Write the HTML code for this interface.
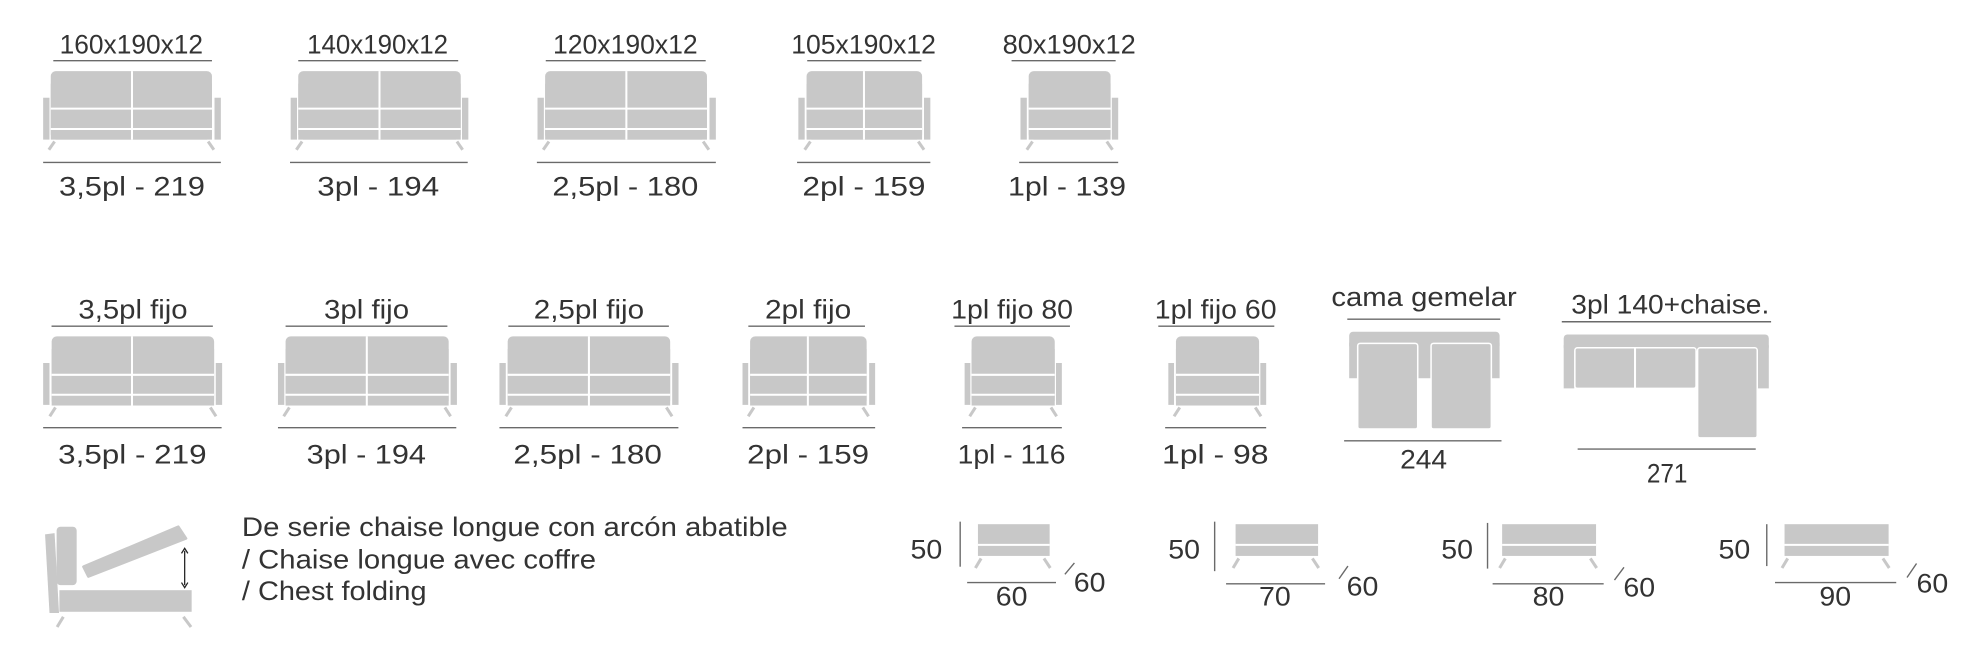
<!DOCTYPE html>
<html><head><meta charset="utf-8"><style>
html,body{margin:0;padding:0;background:#fff;}
svg{display:block;}
text{font-family:"Liberation Sans",sans-serif;fill:#333;font-size:21px;}
</style></head><body>
<svg width="1980" height="660" viewBox="0 0 1560 520" xmlns="http://www.w3.org/2000/svg" xml:space="preserve">
<defs>
<style>
.f{fill:#c8c8c8}
.w{stroke:#fff;stroke-width:1.6}
.l{stroke:#6a6a6a;stroke-width:1.1}
.g{stroke:#c8c8c8;stroke-width:2.4}
</style>
</defs>

<!-- ===== ROW 1 ===== -->
<!-- sofa 1 -->
<g>
<rect class="f" x="34" y="77" width="5" height="33"/><rect class="f" x="169" y="77" width="5" height="33"/>
<rect class="f" x="40" y="56" width="127" height="54" rx="4"/><rect class="f" x="40" y="66" width="127" height="44"/>
<line class="w" x1="40" y1="85.6" x2="167" y2="85.6"/><line class="w" x1="40" y1="101.6" x2="167" y2="101.6"/><line class="w" x1="104" y1="56" x2="104" y2="110"/>
<line class="g" x1="43" y1="111.5" x2="38.5" y2="118"/><line class="g" x1="164" y1="111.5" x2="168.5" y2="118"/>
</g>
<g>
<rect class="f" x="229" y="77" width="5" height="33"/><rect class="f" x="364" y="77" width="5" height="33"/>
<rect class="f" x="235" y="56" width="128" height="54" rx="4"/><rect class="f" x="235" y="66" width="128" height="44"/>
<line class="w" x1="235" y1="85.6" x2="363" y2="85.6"/><line class="w" x1="235" y1="101.6" x2="363" y2="101.6"/><line class="w" x1="299" y1="56" x2="299" y2="110"/>
<line class="g" x1="238" y1="111.5" x2="233.5" y2="118"/><line class="g" x1="360" y1="111.5" x2="364.5" y2="118"/>
</g>
<g>
<rect class="f" x="423.5" y="77" width="5" height="33"/><rect class="f" x="559" y="77" width="5" height="33"/>
<rect class="f" x="429.5" y="56" width="127.5" height="54" rx="4"/><rect class="f" x="429.5" y="66" width="127.5" height="44"/>
<line class="w" x1="429.5" y1="85.6" x2="557" y2="85.6"/><line class="w" x1="429.5" y1="101.6" x2="557" y2="101.6"/><line class="w" x1="493.5" y1="56" x2="493.5" y2="110"/>
<line class="g" x1="432.5" y1="111.5" x2="428" y2="118"/><line class="g" x1="554" y1="111.5" x2="558.5" y2="118"/>
</g>
<g>
<rect class="f" x="629" y="77" width="5" height="33"/><rect class="f" x="728" y="77" width="5" height="33"/>
<rect class="f" x="635.5" y="56" width="91" height="54" rx="4"/><rect class="f" x="635.5" y="66" width="91" height="44"/>
<line class="w" x1="635.5" y1="85.6" x2="726.5" y2="85.6"/><line class="w" x1="635.5" y1="101.6" x2="726.5" y2="101.6"/><line class="w" x1="680.7" y1="56" x2="680.7" y2="110"/>
<line class="g" x1="638.5" y1="111.5" x2="634" y2="118"/><line class="g" x1="723.5" y1="111.5" x2="728" y2="118"/>
</g>
<g>
<rect class="f" x="804" y="77" width="5" height="33"/><rect class="f" x="876" y="77" width="5" height="33"/>
<rect class="f" x="810.5" y="56" width="64.5" height="54" rx="4"/><rect class="f" x="810.5" y="66" width="64.5" height="44"/>
<line class="w" x1="810.5" y1="85.6" x2="875" y2="85.6"/><line class="w" x1="810.5" y1="101.6" x2="875" y2="101.6"/>
<line class="g" x1="813.5" y1="111.5" x2="809" y2="118"/><line class="g" x1="872" y1="111.5" x2="876.5" y2="118"/>
</g>
<!-- row1 lines -->
<line class="l" x1="42" y1="47.8" x2="167" y2="47.8"/><line class="l" x1="235" y1="47.8" x2="361" y2="47.8"/><line class="l" x1="430" y1="47.8" x2="556" y2="47.8"/><line class="l" x1="636" y1="47.8" x2="726" y2="47.8"/><line class="l" x1="797" y1="47.8" x2="879" y2="47.8"/>
<line class="l" x1="34" y1="128" x2="174" y2="128"/><line class="l" x1="228.5" y1="128" x2="368.5" y2="128"/><line class="l" x1="423" y1="128" x2="564" y2="128"/><line class="l" x1="628" y1="128" x2="733" y2="128"/><line class="l" x1="803" y1="128" x2="881" y2="128"/>
<!-- row1 text -->
<text x="103.5" y="42" text-anchor="middle" textLength="113" lengthAdjust="spacingAndGlyphs">160x190x12</text>
<text x="297.5" y="42" text-anchor="middle" textLength="111" lengthAdjust="spacingAndGlyphs">140x190x12</text>
<text x="492.7" y="42" text-anchor="middle" textLength="114" lengthAdjust="spacingAndGlyphs">120x190x12</text>
<text x="680.4" y="42" text-anchor="middle" textLength="114" lengthAdjust="spacingAndGlyphs">105x190x12</text>
<text x="842.4" y="42" text-anchor="middle" textLength="105" lengthAdjust="spacingAndGlyphs">80x190x12</text>
<text x="104" y="154.2" text-anchor="middle" textLength="115" lengthAdjust="spacingAndGlyphs">3,5pl  -  219</text>
<text x="298" y="154.2" text-anchor="middle" textLength="96" lengthAdjust="spacingAndGlyphs">3pl  -  194</text>
<text x="492.7" y="154.2" text-anchor="middle" textLength="115" lengthAdjust="spacingAndGlyphs">2,5pl  -  180</text>
<text x="680.7" y="154.2" text-anchor="middle" textLength="97" lengthAdjust="spacingAndGlyphs">2pl  -  159</text>
<text x="840.7" y="154.2" text-anchor="middle" textLength="93" lengthAdjust="spacingAndGlyphs">1pl  -  139</text>

<!-- ===== ROW 2 ===== -->
<g>
<rect class="f" x="34" y="286" width="5" height="33"/><rect class="f" x="170" y="286" width="5" height="33"/>
<rect class="f" x="40.7" y="265" width="128" height="54.5" rx="4"/><rect class="f" x="40.7" y="275" width="128" height="44.5"/>
<line class="w" x1="40.7" y1="295.3" x2="168.7" y2="295.3"/><line class="w" x1="40.7" y1="311" x2="168.7" y2="311"/><line class="w" x1="104" y1="265" x2="104" y2="319.5"/>
<line class="g" x1="43.7" y1="321" x2="39.2" y2="328"/><line class="g" x1="165.7" y1="321" x2="170.2" y2="328"/>
</g>
<g>
<rect class="f" x="219" y="286" width="5" height="33"/><rect class="f" x="355" y="286" width="5" height="33"/>
<rect class="f" x="225" y="265" width="128.5" height="54.5" rx="4"/><rect class="f" x="225" y="275" width="128.5" height="44.5"/>
<line class="w" x1="225" y1="295.3" x2="353.5" y2="295.3"/><line class="w" x1="225" y1="311" x2="353.5" y2="311"/><line class="w" x1="289" y1="265" x2="289" y2="319.5"/>
<line class="g" x1="228" y1="321" x2="223.5" y2="328"/><line class="g" x1="350.5" y1="321" x2="355" y2="328"/>
</g>
<g>
<rect class="f" x="393.5" y="286" width="5" height="33"/><rect class="f" x="529.6" y="286" width="5" height="33"/>
<rect class="f" x="400" y="265" width="128" height="54.5" rx="4"/><rect class="f" x="400" y="275" width="128" height="44.5"/>
<line class="w" x1="400" y1="295.3" x2="528" y2="295.3"/><line class="w" x1="400" y1="311" x2="528" y2="311"/><line class="w" x1="464" y1="265" x2="464" y2="319.5"/>
<line class="g" x1="403" y1="321" x2="398.5" y2="328"/><line class="g" x1="525" y1="321" x2="529.5" y2="328"/>
</g>
<g>
<rect class="f" x="585" y="286" width="4.5" height="33"/><rect class="f" x="684.8" y="286" width="4.7" height="33"/>
<rect class="f" x="591" y="265" width="91.8" height="54.5" rx="4"/><rect class="f" x="591" y="275" width="91.8" height="44.5"/>
<line class="w" x1="591" y1="295.3" x2="682.8" y2="295.3"/><line class="w" x1="591" y1="311" x2="682.8" y2="311"/><line class="w" x1="636.5" y1="265" x2="636.5" y2="319.5"/>
<line class="g" x1="594" y1="321" x2="589.5" y2="328"/><line class="g" x1="679.8" y1="321" x2="684.3" y2="328"/>
</g>
<g>
<rect class="f" x="760" y="286" width="4.5" height="33"/><rect class="f" x="832" y="286" width="4.6" height="33"/>
<rect class="f" x="765.5" y="265" width="65.5" height="54.5" rx="4"/><rect class="f" x="765.5" y="275" width="65.5" height="44.5"/>
<line class="w" x1="765.5" y1="295.3" x2="831" y2="295.3"/><line class="w" x1="765.5" y1="311" x2="831" y2="311"/>
<line class="g" x1="768.5" y1="321" x2="764" y2="328"/><line class="g" x1="828" y1="321" x2="832.5" y2="328"/>
</g>
<g>
<rect class="f" x="920.5" y="286" width="4.5" height="33"/><rect class="f" x="993" y="286" width="4.6" height="33"/>
<rect class="f" x="926.5" y="265" width="65.5" height="54.5" rx="4"/><rect class="f" x="926.5" y="275" width="65.5" height="44.5"/>
<line class="w" x1="926.5" y1="295.3" x2="992" y2="295.3"/><line class="w" x1="926.5" y1="311" x2="992" y2="311"/>
<line class="g" x1="929.5" y1="321" x2="925" y2="328"/><line class="g" x1="989" y1="321" x2="993.5" y2="328"/>
</g>
<!-- row2 lines -->
<line class="l" x1="40.6" y1="257" x2="167.7" y2="257"/><line class="l" x1="225" y1="257" x2="352.5" y2="257"/><line class="l" x1="400.5" y1="257" x2="527" y2="257"/><line class="l" x1="589.6" y1="257" x2="681.5" y2="257"/><line class="l" x1="752" y1="257" x2="843" y2="257"/><line class="l" x1="912.6" y1="257" x2="1004" y2="257"/>
<line class="l" x1="34" y1="337" x2="174.6" y2="337"/><line class="l" x1="219" y1="337" x2="359.5" y2="337"/><line class="l" x1="393.5" y1="337" x2="534.5" y2="337"/><line class="l" x1="585" y1="337" x2="689.5" y2="337"/><line class="l" x1="758" y1="337" x2="836.6" y2="337"/><line class="l" x1="918" y1="337" x2="997.6" y2="337"/>
<!-- row2 text -->
<text x="104.8" y="251" text-anchor="middle" textLength="86" lengthAdjust="spacingAndGlyphs">3,5pl fijo</text>
<text x="288.8" y="251" text-anchor="middle" textLength="67" lengthAdjust="spacingAndGlyphs">3pl fijo</text>
<text x="464" y="251" text-anchor="middle" textLength="87" lengthAdjust="spacingAndGlyphs">2,5pl fijo</text>
<text x="636.7" y="251" text-anchor="middle" textLength="68" lengthAdjust="spacingAndGlyphs">2pl fijo</text>
<text x="797.4" y="251" text-anchor="middle" textLength="96" lengthAdjust="spacingAndGlyphs">1pl fijo 80</text>
<text x="957.8" y="251" text-anchor="middle" textLength="96" lengthAdjust="spacingAndGlyphs">1pl fijo 60</text>
<text x="104.3" y="365" text-anchor="middle" textLength="117" lengthAdjust="spacingAndGlyphs">3,5pl  -  219</text>
<text x="288.6" y="365" text-anchor="middle" textLength="94" lengthAdjust="spacingAndGlyphs">3pl  -  194</text>
<text x="463" y="365" text-anchor="middle" textLength="117" lengthAdjust="spacingAndGlyphs">2,5pl  -  180</text>
<text x="636.7" y="365" text-anchor="middle" textLength="96" lengthAdjust="spacingAndGlyphs">2pl  -  159</text>
<text x="797" y="365" text-anchor="middle" textLength="85" lengthAdjust="spacingAndGlyphs">1pl  -  116</text>
<text x="957.5" y="365" text-anchor="middle" textLength="84" lengthAdjust="spacingAndGlyphs">1pl  -  98</text>

<!-- cama gemelar -->
<g>
<rect class="f" x="1063" y="261.4" width="118.5" height="14" rx="3"/>
<rect class="f" x="1063" y="270" width="6.5" height="28"/>
<rect class="f" x="1117" y="270" width="10.5" height="28"/>
<rect class="f" x="1175.3" y="270" width="6.2" height="28"/>
<rect class="f" x="1069.7" y="270.5" width="47.3" height="67.5" rx="2" stroke="#fff" stroke-width="1.2"/>
<rect class="f" x="1127.5" y="270.5" width="47.5" height="67.5" rx="2" stroke="#fff" stroke-width="1.2"/>
</g>
<line class="l" x1="1061.5" y1="251.5" x2="1182" y2="251.5"/>
<line class="l" x1="1059" y1="347.3" x2="1183" y2="347.3"/>
<text x="1122" y="241" text-anchor="middle" textLength="146" lengthAdjust="spacingAndGlyphs">cama gemelar</text>
<text x="1121.6" y="369" text-anchor="middle" textLength="37" lengthAdjust="spacingAndGlyphs">244</text>

<!-- 3pl 140 + chaise -->
<g>
<rect class="f" x="1232" y="263.5" width="161.6" height="13" rx="3"/>
<rect class="f" x="1232" y="272" width="8.3" height="34"/>
<rect class="f" x="1385" y="272" width="8.6" height="34"/>
<rect class="f" x="1240.8" y="274" width="95.5" height="32" rx="2" stroke="#fff" stroke-width="1.2"/>
<line class="w" x1="1288.2" y1="274" x2="1288.2" y2="306" stroke-width="1.2"/>
<rect class="f" x="1337.5" y="274" width="47" height="71" rx="2" stroke="#fff" stroke-width="1.2"/>
</g>
<line class="l" x1="1230.5" y1="253.5" x2="1395.4" y2="253.5"/>
<line class="l" x1="1243" y1="353.8" x2="1383.3" y2="353.8"/>
<text x="1316" y="247" text-anchor="middle" textLength="156" lengthAdjust="spacingAndGlyphs">3pl 140+chaise.</text>
<text x="1313.5" y="380" text-anchor="middle" textLength="32" lengthAdjust="spacingAndGlyphs">271</text>

<!-- chest folding icon -->
<g>
<polygon class="f" points="35.5,421 43,420 46.5,483 39,483"/>
<rect class="f" x="44.6" y="415" width="15.8" height="46" rx="3"/>
<polygon class="f" points="65.7,446.5 140.5,415 146.6,424.2 69.6,454.3" stroke="#c8c8c8" stroke-width="2" stroke-linejoin="round"/>
<rect class="f" x="46.8" y="465" width="104.2" height="17"/>
<line class="g" x1="49.9" y1="486" x2="45" y2="494" stroke-width="2.6"/><line class="g" x1="144.5" y1="486" x2="150.5" y2="494" stroke-width="2.6"/>
<line x1="145.5" y1="434" x2="145.5" y2="461" stroke="#222" stroke-width="1"/>
<polyline points="143,436 145.5,432 148,436" fill="none" stroke="#222" stroke-width="1"/>
<polyline points="143,459 145.5,463 148,459" fill="none" stroke="#222" stroke-width="1"/>
</g>
<text x="190.6" y="422.4" textLength="430" lengthAdjust="spacingAndGlyphs">De serie chaise longue con arcón abatible</text>
<text x="190.6" y="447.9" textLength="279" lengthAdjust="spacingAndGlyphs">/ Chaise longue avec coffre</text>
<text x="190.6" y="472.8" textLength="145.5" lengthAdjust="spacingAndGlyphs">/ Chest folding</text>

<!-- footstools -->
<g>
<text x="717.4" y="440" font-size="19" textLength="25" lengthAdjust="spacingAndGlyphs">50</text>
<line class="l" x1="756.5" y1="411" x2="756.5" y2="446.5"/>
<rect class="f" x="770.5" y="413" width="56.5" height="25"/><line class="w" x1="770.5" y1="429.3" x2="827" y2="429.3"/>
<line class="g" x1="773" y1="440" x2="768.5" y2="447.5"/><line class="g" x1="822.5" y1="440" x2="827.5" y2="447.5"/>
<line class="l" x1="762" y1="459" x2="832" y2="459"/>
<line class="l" x1="839" y1="452.5" x2="846.5" y2="443.5"/>
<text x="846" y="466" font-size="19" textLength="25" lengthAdjust="spacingAndGlyphs">60</text>
<text x="797" y="477" font-size="19" text-anchor="middle" textLength="25" lengthAdjust="spacingAndGlyphs">60</text>
</g>
<g>
<text x="920.5" y="440" font-size="19" textLength="25" lengthAdjust="spacingAndGlyphs">50</text>
<line class="l" x1="957" y1="411" x2="957" y2="450"/>
<rect class="f" x="973.5" y="413" width="65" height="25"/><line class="w" x1="973.5" y1="429.3" x2="1038.5" y2="429.3"/>
<line class="g" x1="976" y1="440" x2="971.5" y2="447.5"/><line class="g" x1="1034" y1="440" x2="1039" y2="447.5"/>
<line class="l" x1="966" y1="460" x2="1044" y2="460"/>
<line class="l" x1="1055" y1="456" x2="1062" y2="446"/>
<text x="1061" y="469" font-size="19" textLength="25" lengthAdjust="spacingAndGlyphs">60</text>
<text x="1004.5" y="477" font-size="19" text-anchor="middle" textLength="25" lengthAdjust="spacingAndGlyphs">70</text>
</g>
<g>
<text x="1135.5" y="440" font-size="19" textLength="25" lengthAdjust="spacingAndGlyphs">50</text>
<line class="l" x1="1172" y1="412" x2="1172" y2="448"/>
<rect class="f" x="1183.5" y="413" width="74" height="25"/><line class="w" x1="1183.5" y1="429.3" x2="1257.5" y2="429.3"/>
<line class="g" x1="1186" y1="440" x2="1181.5" y2="447.5"/><line class="g" x1="1253" y1="440" x2="1258" y2="447.5"/>
<line class="l" x1="1176" y1="460" x2="1263.5" y2="460"/>
<line class="l" x1="1272" y1="457" x2="1279.5" y2="447"/>
<text x="1279" y="470" font-size="19" textLength="25" lengthAdjust="spacingAndGlyphs">60</text>
<text x="1220" y="477" font-size="19" text-anchor="middle" textLength="25" lengthAdjust="spacingAndGlyphs">80</text>
</g>
<g>
<text x="1354" y="440" font-size="19" textLength="25" lengthAdjust="spacingAndGlyphs">50</text>
<line class="l" x1="1392" y1="413" x2="1392" y2="446"/>
<rect class="f" x="1406" y="413" width="82" height="25"/><line class="w" x1="1406" y1="429.3" x2="1488" y2="429.3"/>
<line class="g" x1="1408.5" y1="440" x2="1404" y2="447.5"/><line class="g" x1="1483.5" y1="440" x2="1488.5" y2="447.5"/>
<line class="l" x1="1398.5" y1="459" x2="1494" y2="459"/>
<line class="l" x1="1502.5" y1="455" x2="1510" y2="444"/>
<text x="1510" y="467" font-size="19" textLength="25" lengthAdjust="spacingAndGlyphs">60</text>
<text x="1446" y="477" font-size="19" text-anchor="middle" textLength="25" lengthAdjust="spacingAndGlyphs">90</text>
</g>
</svg>
</body></html>
